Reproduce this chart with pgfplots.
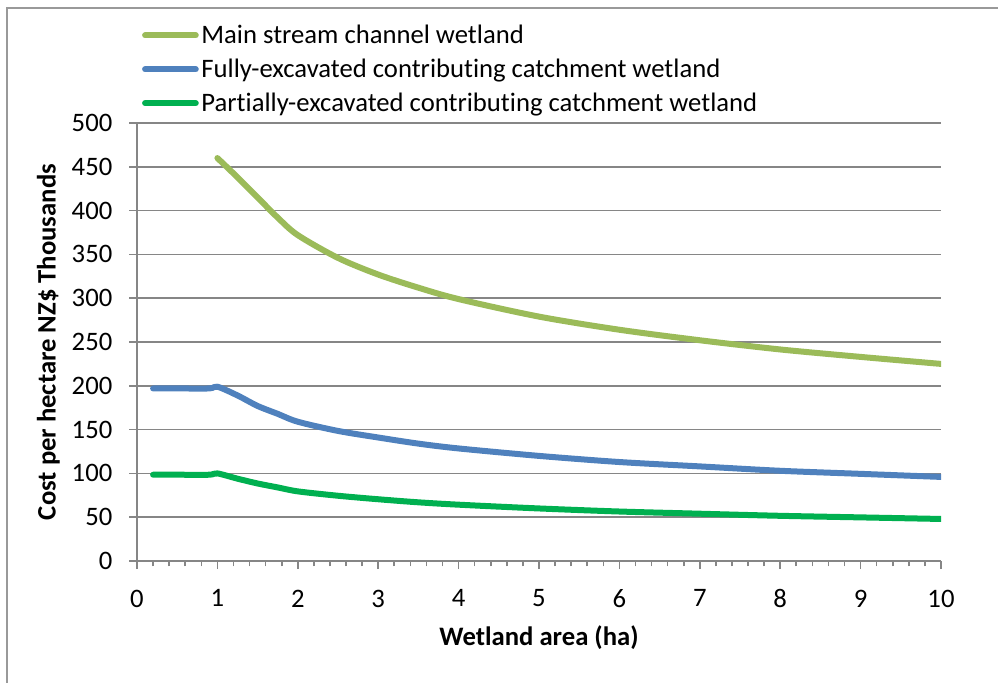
\documentclass[border=0pt]{standalone}
\usepackage{pgfplots}
\pgfplotsset{compat=1.18}
\usepackage{fontspec}
\setmainfont{Carlito}[Ligatures=NoCommon]
\definecolor{cMain}{HTML}{9BBB59}
\definecolor{cFull}{HTML}{4F81BD}
\definecolor{cPart}{HTML}{00B050}
\definecolor{cGrid}{HTML}{868686}
\begin{document}
\begin{tikzpicture}
\useasboundingbox (0,0) rectangle (748.5pt,-511.5pt);
\draw[color=gray!80, line width=1.5pt] (5.25pt,-520pt) -- (5.25pt,-6pt) -- (760pt,-6pt);
\begin{axis}[
  at={(102.75pt,-420.75pt)}, anchor=south west,
  scale only axis, width=603pt, height=328.5pt,
  xmin=0, xmax=10, ymin=0, ymax=500,
  xtick={0,1,...,10}, minor x tick num=4,
  ytick={0,50,...,500},
  axis x line*=bottom, axis y line*=left,
  axis line style={cGrid, line width=1.2pt, -},
  every tick/.style={cGrid, line width=1.2pt},
  tick align=outside,
  major tick length=6pt, minor tick length=4pt,
  ymajorgrids, grid style={cGrid, line width=1.2pt},
  font=\fontsize{20}{24}\selectfont,
  /pgf/number format/assume math mode=true,
  xticklabel style={yshift=-12pt},
  yticklabel style={xshift=-9pt},
  xlabel={\textbf{Wetland area (ha)}},
  ylabel={\textbf{Cost per hectare NZ\$ Thousands}},
  xlabel style={yshift=-6pt},
  ylabel style={yshift=2pt},
  legend cell align=left,
  legend style={at={(0.006,1.23)}, anchor=north west, draw=none, fill=none,
    inner sep=0pt, row sep=6pt, font=\fontsize{20}{24}\selectfont,
    /tikz/every even column/.append style={column sep=0pt}},
  legend image code/.code={\draw[#1, line width=4.5pt, line cap=round] (0pt,0pt) -- (38pt,0pt);},
  every axis plot/.append style={line width=4.5pt, line cap=round, line join=round, smooth, tension=0.5},
]
\addplot[cMain] coordinates {
(1,460) (1.25,438) (1.5,415) (1.75,392) (2,372) (2.5,346) (3,327) (3.5,312)
(4,299) (5,279) (6,264) (7,252) (8,241.5) (9,233) (10,225)};
\addlegendentry{Main stream channel wetland}
\addplot[cFull] coordinates {
(0.2,197) (0.5,197) (0.9,197) (1,199) (1.25,189) (1.5,177) (1.75,168) (2,159)
(2.5,148.5) (3,141) (3.5,134) (4,128.5) (5,120) (6,113) (7,108) (8,103) (9,99.5) (10,96)};
\addlegendentry{Fully-excavated contributing catchment wetland}
\addplot[cPart] coordinates {
(0.2,98.5) (0.5,98.5) (0.9,98.5) (1,100) (1.25,94) (1.5,88.5) (1.75,84) (2,79.5)
(2.5,74.5) (3,70.5) (3.5,67) (4,64.3) (5,60) (6,56.5) (7,54) (8,51.6) (9,49.8) (10,48)};
\addlegendentry{Partially-excavated contributing catchment wetland}
\end{axis}
\end{tikzpicture}
\end{document}
